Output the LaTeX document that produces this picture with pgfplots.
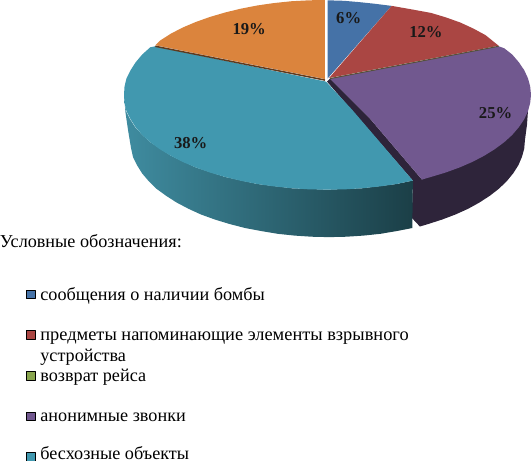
\documentclass[border=0pt]{standalone}
\usepackage{pgfplots}
\pgfplotsset{compat=1.18}
\usepackage{fontspec}
\setmainfont{Liberation Serif}
\definecolor{cblue}{HTML}{4572A7}
\definecolor{cred}{HTML}{AA4643}
\definecolor{cgreen}{HTML}{89A54E}
\definecolor{cpurple}{HTML}{71588F}
\definecolor{cteal}{HTML}{4198AF}
\definecolor{corange}{HTML}{DB843D}
\definecolor{cdark}{HTML}{2E243A}
\definecolor{cband}{HTML}{5F3A1E}
\definecolor{colive}{HTML}{55503A}
\definecolor{twl}{HTML}{3F8CA0}
\definecolor{twr}{HTML}{1B3F47}
\begin{document}
\begin{tikzpicture}
\begin{axis}[
  scale only axis, width=531pt, height=461pt,
  xmin=0, xmax=531, ymin=0, ymax=461, y dir=reverse,
  axis lines=none, clip=false,
  every axis plot/.append style={line join=round},
]
% purple wall (also the band beside the teal slice)
\addplot[draw=none, fill=cdark] coordinates {(328,82)(331,79)(370,118)(422,179)(527,111)(526,125)(524,140)(523.3,148.4)(521,156.7)(517.5,164.8)(512.4,172.8)(506,180.6)(498.3,188)(489.3,195)(479,201.7)(467.8,207.9)(455.4,213.5)(442,218.6)(428,223.1)(420,225.5)(412,217)(413,180)(328,82)};
% teal wall
\addplot[draw=none, left color=twl, right color=twr] coordinates {(127,95)(129,111.3)(133,119.3)(138,127.1)(145,134.8)(153,142)(173.3,155.4)(198,167)(227,176.4)(259,183.4)(293,187.6)(328,189)(363,187.6)(397,183.4)(413,180)(412.5,227)(397,230)(381,232.7)(364,234.5)(347,235.6)(330,236)(313,235.6)(296,234.5)(279,232.7)(263,230)(247,227)(231.5,223)(217,218.6)(203,213.5)(191,208)(179,201.7)(168.6,195)(159,188)(151.5,180.6)(145,173)(140,165)(136,157)(134,148)(131,130)(128.5,113)(127,95)};
% top of teal
\addplot[draw=none, fill=cteal] coordinates {(327,82)(158,47)(153,48)(145,55.2)(138.5,62.9)(133.5,70.7)(129.5,78.7)(127.5,86.8)(127,95)(127.5,103.2)(129.5,111.3)(133.5,119.3)(138.5,127.1)(145,134.8)(153,142)(162.5,149)(173.3,155.4)(185,161.5)(198,167)(212,172)(227,176.4)(242.6,180.2)(259,183.4)(275.7,185.8)(293,187.6)(310.4,188.7)(328,189)(345.6,188.7)(363,187.6)(380.3,185.8)(397,183.4)(413,180)(353,110)(327,82)};
% top of purple
\addplot[draw=none, fill=cpurple] coordinates {(331,79)(498,47)(503.5,49)(511.4,55.2)(518,62.9)(523.3,70.7)(527,78.7)(529.2,86.8)(530,95)(529.2,103.2)(527,111.3)(523.3,119.3)(518,127.1)(511.4,134.8)(503.5,142)(494,149)(483.7,155.4)(472,161.5)(459.3,167)(445.6,172)(431,176.4)(422,179)(370,118)(331,79)};
% top of orange
\addplot[draw=none, fill=corange] coordinates {(326,79.5)(158,46)(162.5,41.5)(173.3,34.6)(185,28.5)(198,23)(212,18)(227,13.6)(242.6,9.8)(259,6.6)(275.7,4.2)(293,2.4)(310.4,1.5)(326,1.2)(326,79.5)};
\addplot[cband, line width=1.5pt] coordinates {(158,47)(326,80.5)};
% top of blue
\addplot[draw=none, fill=cblue] coordinates {(328.5,79)(328.5,1.5)(345,2)(360,3.3)(376,5)(392,7)(328.5,79)};
% top of red
\addplot[draw=none, fill=cred] coordinates {(330,78.5)(392,7)(412,10.5)(431,14)(446,18.5)(460,23.5)(473,29.5)(485,36)(498,46.5)(330,78.5)};
\addplot[colive, line width=1pt] coordinates {(331,79)(498,47)};
% legend keys
\addplot[only marks, mark=square*, mark size=4.2pt, mark options={draw=none, fill=cblue}] coordinates {(34.5,292.7)};
\addplot[only marks, mark=square*, mark size=4.2pt, mark options={draw=none, fill=cred}] coordinates {(34.5,332.7)};
\addplot[only marks, mark=square*, mark size=4.2pt, mark options={draw=none, fill=cgreen}] coordinates {(34.5,373.3)};
\addplot[only marks, mark=square*, mark size=4.2pt, mark options={draw=none, fill=cpurple}] coordinates {(34.5,413.3)};
\addplot[only marks, mark=square*, mark size=4.2pt, mark options={draw=none, fill=cteal}] coordinates {(34.5,453.3)};
% value labels
\tikzset{pct/.style={font=\fontsize{16.5}{16.5}\selectfont\bfseries, text=black!90, inner sep=0pt, anchor=center}}
\node[pct] at (axis cs:349.5,19) {6\%};
\node[pct] at (axis cs:426,33) {12\%};
\node[pct] at (axis cs:495,113) {25\%};
\node[pct] at (axis cs:193,143) {38\%};
\node[pct] at (axis cs:251,30) {19\%};
% legend text
\tikzset{lg/.style={font=\fontsize{18}{18}\selectfont, inner sep=0pt, anchor=base west}}
\node[lg] at (axis cs:4,246) {Условные обозначения:};
\node[lg] at (axis cs:44,299) {сообщения о наличии бомбы};
\node[lg, font=\fontsize{18.2}{18.2}\selectfont] at (axis cs:44,338) {предметы напоминающие элементы взрывного};
\node[lg] at (axis cs:44,359) {устройства};
\node[lg] at (axis cs:44,379) {возврат рейса};
\node[lg] at (axis cs:44,419) {анонимные звонки};
\node[lg] at (axis cs:44,456) {бесхозные объекты};
\end{axis}
\end{tikzpicture}
\end{document}
